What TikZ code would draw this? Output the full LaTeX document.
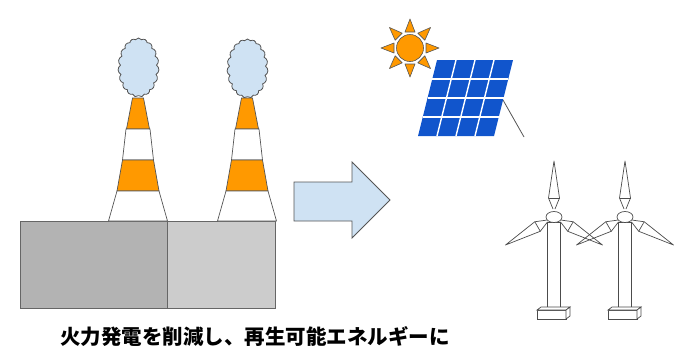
\documentclass[tikz,border=0pt]{standalone}
\usepackage{fontspec}
\newfontfamily\cjk{Noto Sans CJK JP}
\usetikzlibrary{calc,shapes.symbols}
\definecolor{smoke}{HTML}{CFE2F3}
\definecolor{stripe}{HTML}{FF9900}
\definecolor{outl}{HTML}{555555}
\definecolor{walldark}{HTML}{B3B3B3}
\definecolor{walllight}{HTML}{CCCCCC}
\definecolor{panel}{HTML}{1155CC}
\begin{document}
\begin{tikzpicture}[x=1pt,y=-1pt,
  wall/.style={draw=outl!90,line width=1pt},
  band/.style={draw=outl,line width=0.7pt},
  puff/.style={cloud,cloud puffs=19,cloud puff arc=120,draw=outl,fill=smoke,
    line width=0.8pt,inner sep=0pt,minimum width=41pt,minimum height=59pt},
  tline/.style={draw=black!70,line width=0.7pt},
  ray/.style={fill=stripe,draw=outl,line width=0.6pt,line join=round},
  chimney/.pic={
    \draw[band,fill=stripe] (-5.5,98) -- (5.5,98) -- (11.5,129) -- (-11.5,129) -- cycle;
    \draw[band,fill=white] (-12,129) -- (12,129) -- (15.5,160) -- (-15.5,160) -- cycle;
    \draw[band,fill=stripe] (-15.5,160) -- (15.5,160) -- (21,191) -- (-21,191) -- cycle;
    \draw[band,fill=white] (-21,191) -- (21,191) -- (29.5,221) -- (-29.5,221) -- cycle;
  },
  turbine/.pic={
    \draw[tline,fill=white] (-6.5,5) rectangle (6.5,92);
    \foreach \a in {270,150,30}{
      \draw[tline,line join=round] ($(\a:8)+(\a+90:1)$) -- ($(\a:19)+(\a+90:5.5)$) -- (\a:56)
        -- ($(\a:19)+(\a-90:5.5)$) -- ($(\a:8)+(\a-90:1)$);
      \draw[tline] ($(\a:19)+(\a+90:5.5)$) -- ($(\a:19)+(\a-90:5.5)$);
    }
    \draw[tline,fill=white] (0,0) ellipse (8 and 5.5);
    \draw[tline,fill=white] (-17,93) rectangle (12,102);
    \draw[tline,fill=white] (-17,93) -- (-13,90) -- (16,90) -- (12,93) -- cycle;
    \draw[tline,fill=white] (12,93) -- (16,90) -- (16,99) -- (12,102) -- cycle;
  }]
\useasboundingbox (0,0) rectangle (689,357);

% power plant building
\draw[wall,fill=walldark] (20,221) rectangle (167,308);
\draw[wall,fill=walllight] (167,221) rectangle (275,308);

% chimneys with smoke
\pic at (138,0) {chimney};
\pic at (247,0) {chimney};
\node[puff] (smokeA) at (138.5,67.5) {};
\node[puff] (smokeB) at (247.5,68.5) {};

% transition arrow
\draw[draw=outl,fill=smoke,line width=0.8pt,line join=miter]
  (294,182) -- (352,182) -- (352,162) -- (390,200) -- (352,238) -- (352,221) -- (294,221) -- cycle;

% sun
\coordinate (sun) at (410,48);
\foreach \a in {0,45,...,315}{
  \draw[ray] ($(sun)+(\a:16)+(\a+90:5)$) -- ($(sun)+(\a:29)$) -- ($(sun)+(\a:16)+(\a-90:5)$) -- cycle;
}
\draw[ray] (sun) circle (13.5);

% solar panel
\coordinate (pTL) at (437,60);
\coordinate (pTR) at (513,60);
\coordinate (pBR) at (494,136);
\coordinate (pBL) at (418,136);
\draw[outl,line width=0.8pt] (503,100) -- (524,137);
\fill[panel] (pTL) -- (pTR) -- (pBR) -- (pBL) -- cycle;
\foreach \f in {0.25,0.5,0.75}{
  \draw[white,line width=1.4pt] ($(pTL)!\f!(pTR)$) -- ($(pBL)!\f!(pBR)$);
  \draw[white,line width=1.4pt] ($(pTL)!\f!(pBL)$) -- ($(pTR)!\f!(pBR)$);
}

% wind turbines
\pic at (554,217) {turbine};
\pic at (625,217) {turbine};

% caption
\node[anchor=west,inner sep=0pt,font=\cjk\bfseries\fontsize{20.5}{24}\selectfont] (caption)
  at (60,337) {火力発電を削減し、再生可能エネルギーに};
\end{tikzpicture}
\end{document}
